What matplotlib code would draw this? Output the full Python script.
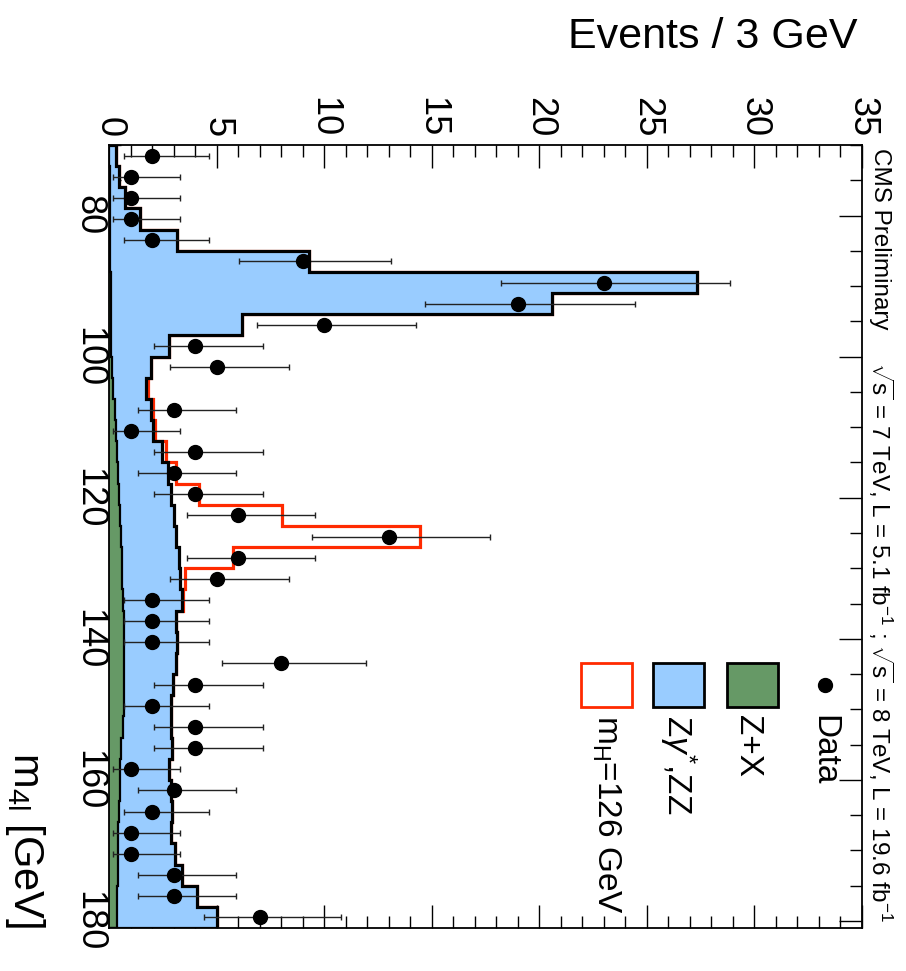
import numpy as np
import matplotlib
matplotlib.use("Agg")
import matplotlib.pyplot as plt
from matplotlib.patches import Rectangle
from matplotlib.lines import Line2D
from matplotlib.ticker import MultipleLocator

plt.rcParams["font.family"] = ["Liberation Sans", "DejaVu Sans"]
plt.rcParams["mathtext.fontset"] = "custom"
plt.rcParams["mathtext.rm"] = "Liberation Sans"
plt.rcParams["mathtext.it"] = "Liberation Sans:italic"
plt.rcParams["mathtext.bf"] = "Liberation Sans:bold"
plt.rcParams["ytick.alignment"] = "center"

# 4-lepton mass binning: 37 bins of 3 GeV starting at 70 GeV
mass_lo = 70
bin_width = 3
n_bins = 37

# observed events per bin
data = [2, 1, 1, 1, 2, 9, 23, 19, 10, 4,
        5, 0, 3, 1, 4, 3, 4, 6, 13, 6,
        5, 2, 2, 2, 8, 4, 2, 4, 4, 1,
        3, 2, 1, 1, 3, 3, 7]

# expected background, ZZ + Z+X stacked
bkg_total = [0.33, 0.45, 0.74, 1.42, 3.18, 9.30, 27.35, 20.6, 6.18, 2.80,
             1.94, 1.72, 1.95, 2.06, 2.45, 2.76, 2.87, 3.02, 3.12, 3.26,
             3.30, 3.38, 3.12, 3.18, 3.10, 2.99, 2.88, 2.87, 2.91, 2.81,
             2.87, 2.91, 2.87, 3.07, 3.38, 4.08, 5.00]

# reducible background Z+X
zx = [0.02, 0.03, 0.03, 0.04, 0.05, 0.06, 0.07, 0.08, 0.09, 0.11,
      0.14, 0.20, 0.27, 0.34, 0.39, 0.43, 0.45, 0.50, 0.55, 0.59,
      0.62, 0.66, 0.69, 0.70, 0.70, 0.69, 0.68, 0.66, 0.56, 0.52,
      0.49, 0.46, 0.44, 0.42, 0.41, 0.39, 0.37]

# expected signal for mH = 126 GeV
signal = [0, 0, 0, 0, 0, 0, 0, 0, 0, 0,
          0.03, 0.11, 0.08, 0.08, 0.20, 0.36, 1.33, 5.00, 11.35, 2.52,
          0.23, 0.08, 0, 0, 0, 0, 0, 0, 0, 0,
          0, 0, 0, 0, 0, 0, 0]

# Poisson 68% intervals for the observed counts
counts = [1, 2, 3, 4, 5, 6, 7, 8, 9, 10, 13, 19, 23]
err_low = [0.83, 1.29, 1.63, 1.91, 2.16, 2.38, 2.58, 2.77, 2.94, 3.11, 3.55, 4.32, 4.76]
err_high = [2.30, 2.64, 2.92, 3.16, 3.38, 3.58, 3.77, 3.95, 4.11, 4.27, 4.69, 5.43, 5.86]

W, H = 906, 971
BLUE = "#99ccff"
GREEN = "#669966"
RED = "#ff2a00"


def fx(x):
    return x / W


def fy(y):
    return 1 - y / H


edges = mass_lo + bin_width * np.arange(n_bins + 1)
centers = edges[:-1] + bin_width / 2
bkg = np.array(bkg_total)
sig_bkg = bkg + np.array(signal)

fig = plt.figure(figsize=(W / 100, H / 100), dpi=100)
ax = fig.add_axes([fx(109), fy(928), (862 - 109) / W, (928 - 145) / H])

# stacked histograms, drawn sideways
ax.stairs(sig_bkg, edges, orientation="horizontal", baseline=0,
          color=RED, lw=2.3, zorder=1)
ax.stairs(bkg, edges, orientation="horizontal", baseline=0,
          fill=True, color=BLUE, zorder=2)
ax.stairs(zx, edges, orientation="horizontal", baseline=0,
          fill=True, color=GREEN, zorder=3)
ax.stairs(zx, edges, orientation="horizontal", baseline=0,
          color="black", lw=1.6, zorder=4)
ax.stairs(bkg, edges, orientation="horizontal", baseline=0,
          color="black", lw=2.3, zorder=5)

# data points with asymmetric Poisson errors
lookup_lo = dict(zip(counts, err_low))
lookup_hi = dict(zip(counts, err_high))
obs = np.array(data, dtype=float)
mask = obs > 0
xlo = [lookup_lo[int(n)] for n in obs[mask]]
xhi = [lookup_hi[int(n)] for n in obs[mask]]
ax.errorbar(obs[mask], centers[mask], xerr=[xlo, xhi], fmt="o", color="black",
            ms=10, elinewidth=1.0, ecolor="#222222", capsize=2.5, capthick=1.0,
            zorder=6, clip_on=False)

ax.set_xlim(0, 35)
ax.set_ylim(mass_lo + bin_width * n_bins, mass_lo)

ax.xaxis.set_major_locator(MultipleLocator(5))
ax.xaxis.set_minor_locator(MultipleLocator(1))
ax.yaxis.set_major_locator(MultipleLocator(20))
ax.yaxis.set_minor_locator(MultipleLocator(5))
ax.tick_params(which="both", direction="in", top=True, bottom=True,
               left=True, right=True, labeltop=True, labelbottom=False,
               width=1.0, colors="black")
ax.tick_params(which="major", length=16.5)
ax.tick_params(which="minor", length=8.6)
ax.tick_params(axis="x", labelrotation=-90, labelsize=26, pad=5.5)
ax.tick_params(axis="y", labelrotation=-90, labelsize=26, pad=2)
for sp in ax.spines.values():
    sp.set_linewidth(1.3)
    sp.set_zorder(7)

# axis titles
fig.text(fx(857), fy(17), "Events / 3 GeV", ha="right", va="top", fontsize=31)
fig.text(fx(25), fy(928), r"m$_{\mathrm{4l}}$ [GeV]", rotation=-90,
         ha="center", va="bottom", fontsize=30)

# header lines
fig.text(fx(880), fy(148), "CMS Preliminary", rotation=-90,
         ha="center", va="top", fontsize=17.5)
fig.text(fx(881), fy(922),
         r"$\sqrt{\mathrm{s}}$ = 7 TeV, L = 5.1 fb$^{-1}$ ; "
         r"$\sqrt{\mathrm{s}}$ = 8 TeV, L = 19.6 fb$^{-1}$",
         rotation=-90, ha="center", va="bottom", fontsize=17.5)

# legend
fig.add_artist(Line2D([fx(825)], [fy(685)], marker="o", ms=10,
                      color="black", transform=fig.transFigure))
fig.text(fx(824), fy(715), "Data", rotation=-90, ha="center", va="top",
         fontsize=24)

boxes = [
    (727, GREEN, "black", "Z+X", 748),
    (653, BLUE, "black", r"Z$\gamma^{*}$,ZZ", 678),
    (581, "white", RED, r"m$_{\mathrm{H}}$=126 GeV", 606),
]
for x0, face, edge, label, tx in boxes:
    fig.add_artist(Rectangle((fx(x0), fy(707)), 51 / W, 44 / H,
                             facecolor=face, edgecolor=edge, lw=2.0,
                             transform=fig.transFigure))
    fig.text(fx(tx), fy(715), label, rotation=-90, ha="center", va="top",
             fontsize=24)

fig.savefig("out.png", dpi=100)
